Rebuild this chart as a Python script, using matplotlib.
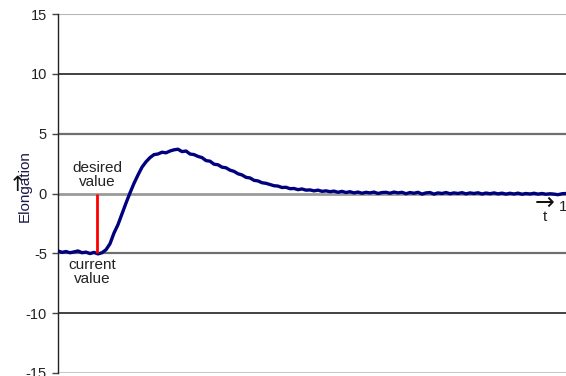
import matplotlib
matplotlib.use("Agg")
import matplotlib.pyplot as plt

plt.rcParams['font.family'] = ['Liberation Sans', 'DejaVu Sans']

# time samples (0..508), elongation values
t_values = list(range(0, 509, 4))
elongation = [
    -4.80, -4.92, -4.85, -4.95, -4.88, -4.80, -4.95, -4.90, -5.02, -4.92,
    -5.05, -4.95, -4.70, -4.20, -3.30, -2.60, -1.70, -0.80, 0.05, 0.85,
    1.55, 2.20, 2.65, 3.00, 3.25, 3.30, 3.45, 3.40, 3.55, 3.65,
    3.70, 3.50, 3.55, 3.30, 3.25, 3.10, 3.00, 2.75, 2.70, 2.45,
    2.40, 2.20, 2.15, 1.95, 1.85, 1.65, 1.55, 1.35, 1.30, 1.10,
    1.05, 0.90, 0.85, 0.75, 0.65, 0.62, 0.50, 0.52, 0.40, 0.42,
    0.32, 0.38, 0.28, 0.30, 0.22, 0.28, 0.18, 0.22, 0.15, 0.20,
    0.10, 0.18, 0.08, 0.15, 0.05, 0.12, 0.02, 0.10, 0.05, 0.12,
    0.00, 0.08, 0.10, 0.02, 0.12, 0.05, 0.10, -0.02, 0.08, 0.02,
    0.10, -0.05, 0.05, 0.08, -0.05, 0.05, 0.00, 0.08, -0.02, 0.05,
    0.00, 0.07, -0.03, 0.05, 0.00, 0.06, -0.04, 0.04, -0.02, 0.05,
    -0.03, 0.03, -0.05, 0.02, -0.04, 0.03, -0.06, 0.00, -0.04, 0.02,
    -0.05, 0.00, -0.06, -0.02, -0.05, -0.10, -0.02, 0.00,
]
step_time = 39
current_value = -5
desired_value = 0
y_ticks = [-15, -10, -5, 0, 5, 10, 15]
grid_colors = ['#c8c8c8', '#333333', '#6e6e6e', '#9a9a9a', '#6e6e6e', '#333333', '#b4b4b4']
grid_widths = [1.5, 1.3, 1.6, 2.0, 1.6, 1.3, 1.5]

W, H = 566, 376
fig = plt.figure(figsize=(W / 100, H / 100), dpi=100)
ax = fig.add_axes([58 / W, (H - 373) / H, (W - 58) / W, (373 - 14) / H])
ax.set_xlim(0, 508)
ax.set_ylim(-15, 15)

for yv, c, lw in zip(y_ticks, grid_colors, grid_widths):
    ax.axhline(yv, color=c, lw=lw, zorder=1)

ax.plot(t_values, elongation, color='#00007f', lw=2.4, zorder=3)
ax.vlines(step_time, current_value, desired_value, color='#ff0000', lw=2, zorder=4)

ax.set_yticks(y_ticks)
ax.set_yticklabels([str(v) for v in y_ticks], fontsize=10.5, color='#222222')
ax.tick_params(axis='y', length=4, width=1, color='#444444', pad=4)
ax.set_xticks([])
for s in ['top', 'right', 'bottom']:
    ax.spines[s].set_visible(False)
ax.spines['left'].set_color('#222222')
ax.spines['left'].set_linewidth(1)

ax.text(step_time + 0.5, 1.55, "desired\nvalue", ha='center', va='center',
        fontsize=11, color='#222222', linespacing=0.95, zorder=5)
ax.text(34, -6.55, "current\nvalue", ha='center', va='center',
        fontsize=11, color='#222222', linespacing=0.95, zorder=5)

fig.text(25 / W, 1 - 186 / H, "Elongation", rotation=90, ha='center', va='center',
         fontsize=11, color='#1a1a4a')
fig.text(17 / W, 1 - 185 / H, "\u2191", ha='center', va='center',
         fontsize=15, color='#111111', family=['DejaVu Sans'])
fig.text(545 / W, 1 - 203 / H, "\u2192", ha='center', va='center',
         fontsize=17, color='#111111', family=['DejaVu Sans'])
fig.text(545 / W, 1 - 217 / H, "t", ha='center', va='center',
         fontsize=11, color='#222222')
fig.text(559 / W, 1 - 207 / H, "1", ha='left', va='center',
         fontsize=11, color='#222222')

fig.savefig("out.png", dpi=100)
